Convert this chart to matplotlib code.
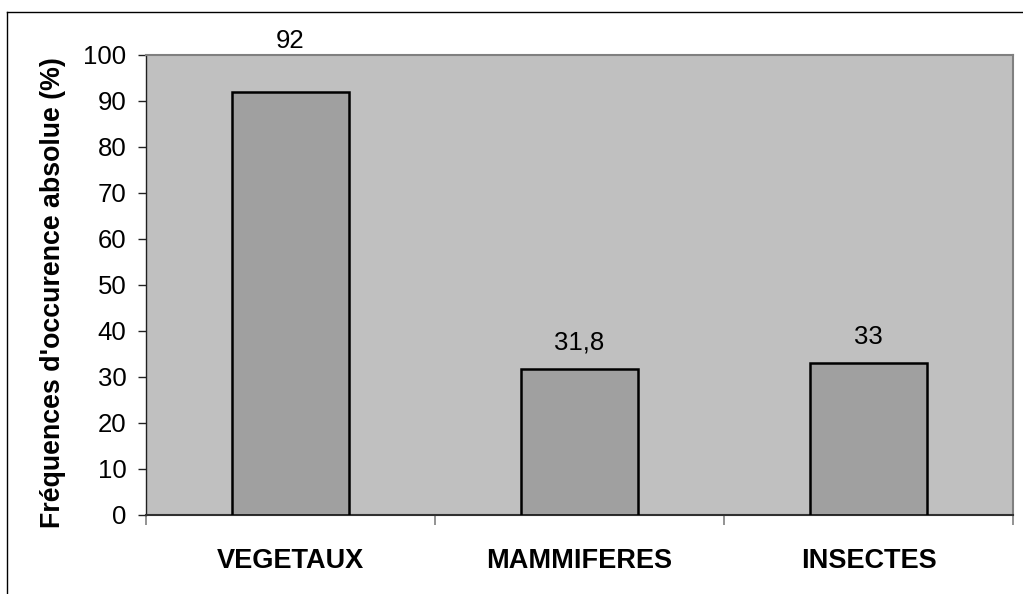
import numpy as np
import matplotlib.pyplot as plt
from matplotlib.lines import Line2D

plt.rcParams['font.family'] = ['Liberation Sans', 'DejaVu Sans']

# Data
categories = ['VEGETAUX', 'MAMMIFERES', 'INSECTES']
values = [92, 31.8, 33]
value_labels = ['92', '31,8', '33']

fig = plt.figure(figsize=(10.23, 5.94), dpi=100)
ax = fig.add_axes([146 / 1023, 1 - 515 / 594, 867 / 1023, 460 / 594])
ax.set_facecolor('#c0c0c0')

x = np.arange(len(categories))
ax.bar(x, values, width=0.405, color='#a0a0a0', edgecolor='black', linewidth=1.8, zorder=3)

# value labels above bars; a tall bar gets its label pushed above the plot area
for xi, v, lab in zip(x, values, value_labels):
    y = v + 3 if v + 3 < 90 else 100.4
    ax.text(xi, y, lab, ha='center', va='bottom', fontsize=18.5, clip_on=False)

ax.set_xlim(-0.5, 2.5)
ax.set_ylim(0, 100)
ax.set_yticks(range(0, 101, 10))
ax.tick_params(axis='y', labelsize=18.5, length=6, width=1, direction='out', pad=8, color='#202020')

ax.set_xticks(x)
ax.set_xticklabels(categories, fontsize=19.5, fontweight='bold')
ax.tick_params(axis='x', which='major', length=0, pad=24)
ax.set_xticks([-0.5, 0.5, 1.5, 2.5], minor=True)
ax.tick_params(axis='x', which='minor', length=7, width=1.2, direction='out', color='#808080')

ax.set_ylabel("Fréquences d'occurence absolue (%)", fontsize=19.3, fontweight='bold', va='center')
ax.yaxis.set_label_coords(-0.1073, 0.483)

for side in ['top', 'right']:
    ax.spines[side].set_color('#808080')
    ax.spines[side].set_linewidth(1.5)
ax.spines['left'].set_color('#202020')
ax.spines['left'].set_linewidth(1)
ax.spines['bottom'].set_color('#303030')
ax.spines['bottom'].set_linewidth(1.5)

# outer chart frame
fx = 7 / 1023
fy = 1 - 12 / 594
fig.add_artist(Line2D([fx, 1.01], [fy, fy], color='black', linewidth=1, transform=fig.transFigure))
fig.add_artist(Line2D([fx, fx], [-0.01, fy], color='black', linewidth=1, transform=fig.transFigure))

fig.savefig('out.png', dpi=100, facecolor='white')
